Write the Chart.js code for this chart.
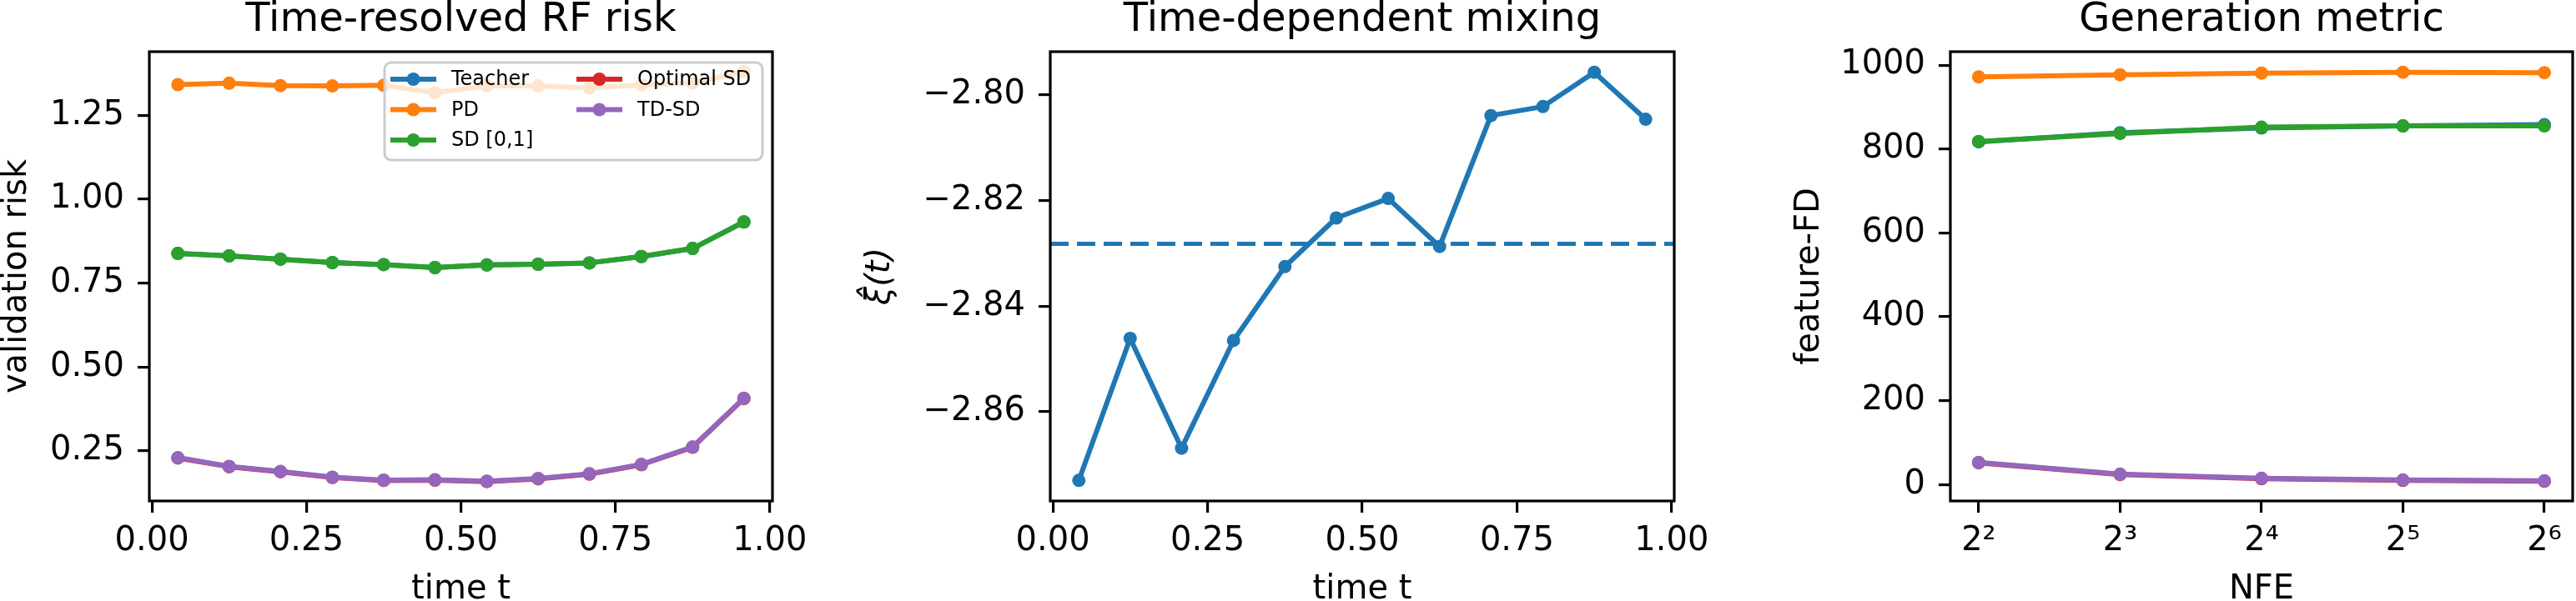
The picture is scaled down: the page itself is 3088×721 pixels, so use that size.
<!DOCTYPE html>
<html>
<head>
<meta charset="utf-8">
<script src="https://cdn.jsdelivr.net/npm/chart.js@4.4.1/dist/chart.umd.min.js"></script>
<style>
  html, body { margin: 0; padding: 0; background: #fff; width: 3088px; height: 721px; overflow: hidden; }
  .panel { position: absolute; top: 0; }
</style>
</head>
<body>
<canvas id="riskChart" class="panel" style="left:0px"></canvas>
<canvas id="mixChart" class="panel" style="left:1000px"></canvas>
<canvas id="genChart" class="panel" style="left:2080px"></canvas>
<script>
const FONT = 'DejaVu Sans';

// panel 1 + 2: time grid
const times = [0.042, 0.125, 0.208, 0.292, 0.375, 0.458, 0.542, 0.625, 0.708, 0.792, 0.875, 0.958];
const timeTicks = [0, 0.25, 0.5, 0.75, 1.0];

const riskTeacher = [0.838, 0.831, 0.821, 0.811, 0.805, 0.796, 0.804, 0.806, 0.810, 0.829, 0.853, 0.932];
const riskPD = [1.341, 1.345, 1.338, 1.337, 1.339, 1.317, 1.337, 1.337, 1.331, 1.340, 1.346, 1.380];
const riskSD = [0.838, 0.831, 0.821, 0.811, 0.805, 0.796, 0.804, 0.806, 0.810, 0.829, 0.853, 0.932];
const riskOptimal = [0.229, 0.203, 0.188, 0.171, 0.162, 0.163, 0.159, 0.167, 0.181, 0.209, 0.261, 0.406];
const riskTDSD = [0.230, 0.204, 0.189, 0.172, 0.163, 0.164, 0.160, 0.168, 0.182, 0.210, 0.262, 0.407];
const riskTicks = [0.25, 0.5, 0.75, 1.0, 1.25];

const xiHat = [-2.8730, -2.8461, -2.8669, -2.8465, -2.8325, -2.8233, -2.8196, -2.8287, -2.8039, -2.8022, -2.7957, -2.8046];
const xiMean = -2.8282;
const xiTicks = [-2.86, -2.84, -2.82, -2.80];

// panel 3: NFE sweep
const nfe = [4, 8, 16, 32, 64];
const nfeLabels = ['2²', '2³', '2⁴', '2⁵', '2⁶'];
const fdTeacher = [817, 839, 850, 855, 858];
const fdPD = [972, 977, 981, 983, 982];
const fdSD = [818, 837, 852, 855, 855];
const fdOptimal = [52, 24, 14, 10, 8];
const fdTDSD = [53, 25, 15, 11, 9];
const fdTicks = [0, 200, 400, 600, 800, 1000];

const COLORS = { teacher: '#1f77b4', pd: '#ff7f0e', sd: '#2ca02c', optimal: '#d62728', tdsd: '#9467bd' };

function series(label, color, xs, ys, order) {
  return {
    label,
    data: xs.map((x, i) => ({ x, y: ys[i] })),
    borderColor: color,
    backgroundColor: color,
    pointBackgroundColor: color,
    borderWidth: 6,
    pointRadius: 8,
    pointBorderWidth: 0,
    borderJoinStyle: 'round',
    tension: 0,
    order
  };
}

function axis(cfg) {
  const bottom = cfg.position === 'bottom';
  return {
    type: cfg.type || 'linear',
    position: cfg.position,
    min: cfg.min,
    max: cfg.max,
    afterBuildTicks: scale => { scale.ticks = cfg.ticks.map(v => ({ value: v })); },
    afterFit: scale => {
      if (bottom) scale.height = cfg.size;
      else scale.width = cfg.size;
    },
    border: { display: false },
    grid: { drawOnChartArea: false, drawTicks: true, tickLength: 14, tickWidth: 3.2, tickColor: '#000', color: '#000', lineWidth: 3.2 },
    ticks: {
      autoSkip: false, maxRotation: 0, minRotation: 0,
      padding: bottom ? 11 : 16,
      color: '#000',
      font: { size: 40, family: FONT },
      callback: cfg.format
    },
    title: {
      display: true,
      text: cfg.title,
      color: '#000',
      font: { size: 40, family: FONT, lineHeight: 1, style: cfg.titleStyle || 'normal' },
      padding: cfg.titlePad
    }
  };
}

// black box around the axes
const frame = {
  id: 'frame',
  afterDraw(chart) {
    const { ctx, chartArea: a } = chart;
    ctx.save();
    ctx.strokeStyle = '#000';
    ctx.lineWidth = 3.2;
    ctx.strokeRect(a.left, a.top, a.right - a.left, a.bottom - a.top);
    ctx.restore();
  }
};

const panelTitle = {
  id: 'panelTitle',
  afterDraw(chart, args, opts) {
    const { ctx, chartArea: a } = chart;
    ctx.save();
    ctx.font = `48px "${FONT}"`;
    ctx.fillStyle = '#000';
    ctx.textAlign = 'center';
    ctx.textBaseline = 'alphabetic';
    ctx.fillText(opts.text, (a.left + a.right) / 2, 37);
    ctx.restore();
  }
};

// two-column legend inside the axes, like matplotlib's ncol=2
const insetLegend = {
  id: 'insetLegend',
  afterDatasetsDraw(chart, args, opts) {
    if (!opts.show) return;
    const { ctx, chartArea: a } = chart;
    const x0 = a.right - 465, y0 = a.top + 13, w = 453, h = 117;
    ctx.save();
    ctx.beginPath();
    ctx.roundRect(x0, y0, w, h, 8);
    ctx.fillStyle = 'rgba(255,255,255,0.8)';
    ctx.fill();
    ctx.strokeStyle = '#cccccc';
    ctx.lineWidth = 3;
    ctx.stroke();

    const items = chart.data.datasets;
    const rows = Math.ceil(items.length / 2);
    ctx.font = `24px "${FONT}"`;
    ctx.textBaseline = 'middle';
    ctx.textAlign = 'left';
    items.forEach((ds, i) => {
      const col = Math.floor(i / rows), row = i % rows;
      const hx = x0 + 7 + col * 223;
      const cy = y0 + 20 + row * 36.5;
      ctx.strokeStyle = ds.borderColor;
      ctx.lineWidth = 6;
      ctx.beginPath();
      ctx.moveTo(hx, cy);
      ctx.lineTo(hx + 55, cy);
      ctx.stroke();
      ctx.fillStyle = ds.borderColor;
      ctx.beginPath();
      ctx.arc(hx + 27.5, cy, 8, 0, Math.PI * 2);
      ctx.fill();
      ctx.fillStyle = '#000';
      ctx.fillText(ds.label, x0 + 80 + col * 223, cy + 1);
    });
    ctx.restore();
  }
};

function makeChart(id, canvasW, yAxisW, axesRight, datasets, scales, title, legend) {
  const canvas = document.getElementById(id);
  canvas.width = canvasW;
  canvas.height = 760;
  return new Chart(canvas.getContext('2d'), {
    type: 'line',
    data: { datasets },
    options: {
      responsive: false,
      devicePixelRatio: 1,
      animation: false,
      layout: { padding: { top: 62, left: 0, bottom: 0, right: canvasW - axesRight } },
      scales,
      plugins: {
        legend: { display: false },
        tooltip: { enabled: false },
        panelTitle: { text: title },
        insetLegend: { show: legend }
      }
    },
    plugins: [frame, panelTitle, insetLegend]
  });
}

const fmt2 = v => v.toFixed(2);
const fmtNeg = v => (v < 0 ? '\u2212' : '') + Math.abs(v).toFixed(2);

makeChart('riskChart', 1000, 179, 926, [
  series('Teacher', COLORS.teacher, times, riskTeacher, 5),
  series('PD', COLORS.pd, times, riskPD, 4),
  series('SD [0,1]', COLORS.sd, times, riskSD, 3),
  series('Optimal SD', COLORS.optimal, times, riskOptimal, 2),
  series('TD-SD', COLORS.tdsd, times, riskTDSD, 1)
], {
  x: axis({ position: 'bottom', min: -0.0042, max: 1.0042, ticks: timeTicks, format: fmt2, size: 159, title: 'time t', titlePad: { top: 0, bottom: 32 } }),
  y: axis({ position: 'left', min: 0.101, max: 1.439, ticks: riskTicks, format: fmt2, size: 179, title: 'validation risk', titlePad: { top: 1, bottom: 0 } })
}, 'Time-resolved RF risk', true);

const mixLine = series('xi', COLORS.teacher, times, xiHat, 1);
const meanLine = {
  label: 'mean',
  data: [{ x: -0.0042, y: xiMean }, { x: 1.0042, y: xiMean }],
  borderColor: COLORS.teacher,
  borderWidth: 5,
  borderDash: [22, 10],
  pointRadius: 0,
  order: 2
};

makeChart('mixChart', 1080, 259, 1007, [mixLine, meanLine], {
  x: axis({ position: 'bottom', min: -0.0042, max: 1.0042, ticks: timeTicks, format: fmt2, size: 159, title: 'time t', titlePad: { top: 0, bottom: 32 } }),
  y: axis({ position: 'left', min: -2.8769, max: -2.7918, ticks: xiTicks, format: fmtNeg, size: 259, title: 'ξ\u0302(t)', titleStyle: 'italic', titlePad: { top: 36, bottom: 0 } })
}, 'Time-dependent mixing', false);

makeChart('genChart', 1080, 258, 1004, [
  series('Teacher', COLORS.teacher, nfe, fdTeacher, 5),
  series('PD', COLORS.pd, nfe, fdPD, 4),
  series('SD [0,1]', COLORS.sd, nfe, fdSD, 3),
  series('Optimal SD', COLORS.optimal, nfe, fdOptimal, 2),
  series('TD-SD', COLORS.tdsd, nfe, fdTDSD, 1)
], {
  x: axis({ type: 'logarithmic', position: 'bottom', min: nfe[0] / Math.pow(2, 0.2), max: nfe[nfe.length - 1] * Math.pow(2, 0.2), ticks: nfe, format: (v, i) => nfeLabels[i], size: 159, title: 'NFE', titlePad: { top: 0, bottom: 32 } }),
  y: axis({ position: 'left', min: -39, max: 1032, ticks: fdTicks, format: v => String(v), size: 258, title: 'feature-FD', titlePad: { top: 70, bottom: 0 } })
}, 'Generation metric', false);
</script>
</body>
</html>
